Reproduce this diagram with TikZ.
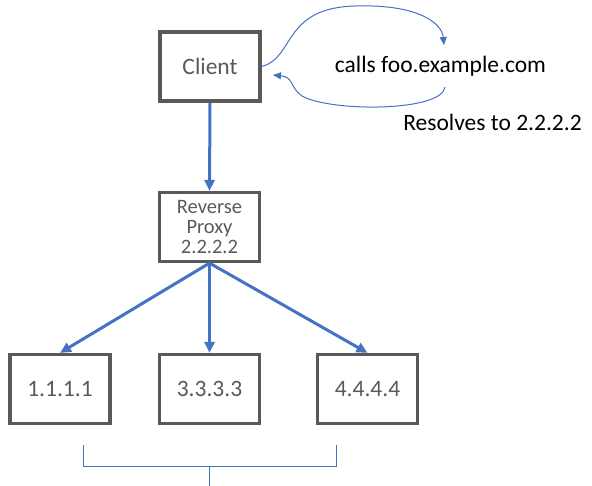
\documentclass[tikz,border=0pt]{standalone}
\usepackage{fontspec}
\setmainfont{Carlito}
\usetikzlibrary{arrows.meta}
\definecolor{boxgray}{HTML}{595959}
\definecolor{arrowblue}{HTML}{4472C4}
\tikzset{
  box/.style={draw=boxgray, line width=3.2bp, minimum width=100bp, minimum height=69bp, inner sep=0pt, text=boxgray, font=\fontsize{23.5bp}{24bp}\selectfont},
  thickarrow/.style={draw=arrowblue, line width=3bp, -{Triangle[length=11bp,width=10bp]}},
  thinarrow/.style={draw=arrowblue, line width=1bp, -{Triangle[length=8bp,width=7bp]}},
  bracket/.style={draw=arrowblue, line width=1bp},
  label/.style={inner sep=0pt, anchor=base, font=\fontsize{23.5bp}{24bp}\selectfont, text=black}
}
\begin{document}
\begin{tikzpicture}[x=1bp,y=-1bp]
\useasboundingbox (0,0) rectangle (592,486);
\node[box] (client) at (210,66.5) {Client};
\node[box, font=\fontsize{20.5bp}{20bp}\selectfont, align=center] (proxy) at (209.5,227) {Reverse\\Proxy\\2.2.2.2};
\node[box] (l1) at (60,389) {1.1.1.1};
\node[box] (l3) at (209.5,389) {3.3.3.3};
\node[box] (l4) at (367.5,389) {4.4.4.4};
\node[label] (calls) at (440.5,73) {calls foo.example.com};
\node[label] (resolves) at (492.5,131) {Resolves to 2.2.2.2};
\draw[thickarrow] (client.south) -- (proxy.north);
\draw[thickarrow] (proxy.south) -- (l1.north);
\draw[thickarrow] (proxy.south) -- (l3.north);
\draw[thickarrow] (proxy.south) -- (l4.north);
\coordinate (callin) at (444,45);
\coordinate (callout) at (445,87);
\coordinate (clin) at (273,75);
\draw[thinarrow] (client.east) .. controls (295,58) and (282,8) .. (355,6) .. controls (420,4) and (442,24) .. (callin);
\draw[thinarrow] (callout) .. controls (442,112) and (330,112) .. (302,96) .. controls (290,88) and (294,77) .. (clin);
\coordinate (bl) at (83,445);
\coordinate (br) at (336,445);
\coordinate (bm) at (209.5,466);
\coordinate (bs) at (209.5,486);
\draw[bracket] (bl) -- (bl |- bm) -- (br |- bm) -- (br);
\draw[bracket] (bm) -- (bs);
\end{tikzpicture}
\end{document}
